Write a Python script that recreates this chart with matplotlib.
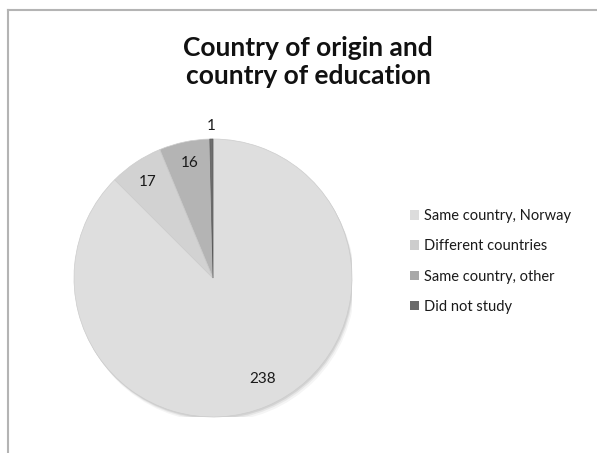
import matplotlib.pyplot as plt
from matplotlib.patches import Patch, Circle
from matplotlib.lines import Line2D

plt.rcParams['font.family'] = ['Lato', 'DejaVu Sans']

categories = ['Same country, Norway', 'Different countries', 'Same country, other', 'Did not study']
counts = [238, 17, 16, 1]
slice_colors = ['#dedede', '#d2d2d2', '#b4b4b4', '#6e6e6e']
legend_colors = ['#dcdcdc', '#cdcdcd', '#a8a8a8', '#6a6a6a']
# where each count label sits, in pie units
label_pos = [(0.36, -0.73), (-0.47, 0.69), (-0.165, 0.83), (-0.01, 1.09)]

W, H = 597, 453
fig = plt.figure(figsize=(W / 100, H / 100), dpi=100)

# chart border (left and top edges)
fig.add_artist(Line2D([8 / W, 8 / W], [0, 1 - 10 / H], color='#b4b4b4', lw=1.5))
fig.add_artist(Line2D([8 / W, 1], [1 - 10 / H, 1 - 10 / H], color='#b4b4b4', lw=1.5))

fig.text(308 / W, 1 - 62 / H, 'Country of origin and\ncountry of education',
         ha='center', va='center', fontsize=19, fontweight='bold',
         linespacing=1.2, color='#111111')

cx, cy, r = 213, 278, 139
ax = fig.add_axes([(cx - r) / W, (H - cy - r) / H, 2 * r / W, 2 * r / H])
# soft drop shadow under the pie
for k, a in [(0.035, 0.08), (0.022, 0.12), (0.012, 0.18)]:
    ax.add_patch(Circle((k * 0.6, -k), 1.0, color='#808080', alpha=a, lw=0, zorder=0))
wedges, _ = ax.pie(counts, colors=slice_colors, startangle=90, counterclock=False,
                   radius=1, wedgeprops=dict(edgecolor='#cccccc', linewidth=0.5))
wedges[3].set_edgecolor('#5a5a5a')
ax.set_xlim(-1, 1)
ax.set_ylim(-1, 1)
ax.set_aspect('equal')
ax.axis('off')

for n, (x, y) in zip(counts, label_pos):
    ax.text(x, y, str(n), ha='center', va='center', fontsize=11, color='#1a1a1a',
            clip_on=False)

handles = [Patch(facecolor=c, edgecolor='none') for c in legend_colors]
fig.legend(handles, categories, loc='center left',
           bbox_to_anchor=(410 / W, 1 - 261.5 / H), frameon=False,
           fontsize=10.5, labelspacing=1.1, handlelength=0.65, handleheight=0.65,
           handletextpad=0.3, borderpad=0, borderaxespad=0, labelcolor='#1a1a1a')

fig.savefig('out.png', dpi=100)
